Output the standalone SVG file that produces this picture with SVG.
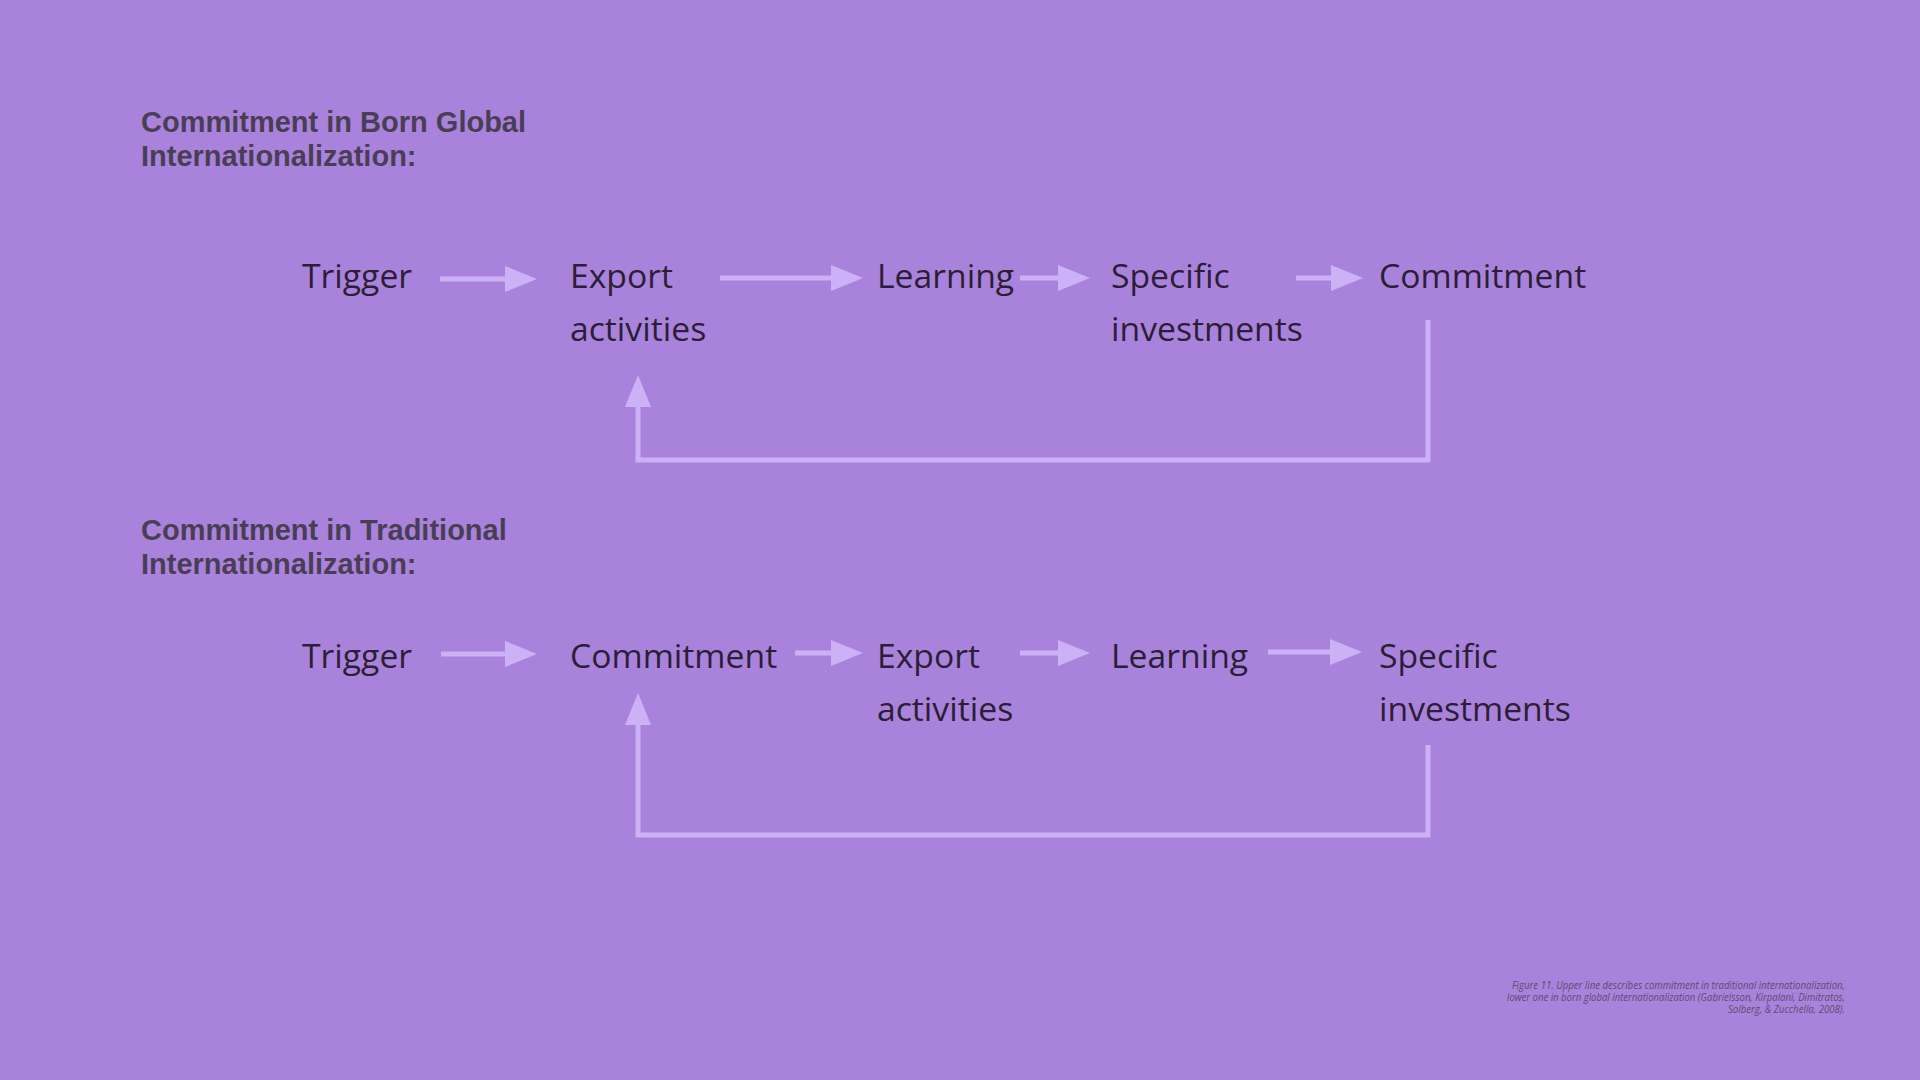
<svg xmlns="http://www.w3.org/2000/svg" width="1920" height="1080" viewBox="0 0 1920 1080">
<defs>
<style>
.hd{font-family:"Liberation Sans",Arial,sans-serif;font-weight:bold;font-size:29px;fill:#4a3e56}
.nd{font-family:"Open Sans","Noto Sans",sans-serif;font-size:33.7px;fill:#2b1e36}
.cn{fill:none;stroke:#cdb1f6;stroke-width:5}
.cap{font-family:"Open Sans","Noto Sans",sans-serif;font-style:italic;font-size:10px;fill:#5e4a70}
</style>
<marker id="ah" viewBox="0 0 32 26" refX="0" refY="13" markerWidth="32" markerHeight="26" markerUnits="userSpaceOnUse" orient="auto">
<path d="M0,0 L32,13 L0,26 z" fill="#cdb1f6"/>
</marker>
</defs>
<rect width="1920" height="1080" fill="#a983db"/>
<g id="heading1"><text class="hd" x="141" y="132">Commitment in Born Global</text><text class="hd" x="141" y="166">Internationalization:</text></g>
<g id="heading2"><text class="hd" x="141" y="540">Commitment in Traditional</text><text class="hd" x="141" y="574">Internationalization:</text></g>
<g id="r1-trigger"><text class="nd" x="302" y="288">Trigger</text></g>
<g id="r1-export"><text class="nd" x="570" y="288">Export</text><text class="nd" x="570" y="341">activities</text></g>
<g id="r1-learning"><text class="nd" x="877" y="288">Learning</text></g>
<g id="r1-specific"><text class="nd" x="1111" y="288">Specific</text><text class="nd" x="1111" y="341">investments</text></g>
<g id="r1-commitment"><text class="nd" x="1379" y="288">Commitment</text></g>
<g id="r2-trigger"><text class="nd" x="302" y="668">Trigger</text></g>
<g id="r2-commitment"><text class="nd" x="570" y="668">Commitment</text></g>
<g id="r2-export"><text class="nd" x="877" y="668">Export</text><text class="nd" x="877" y="721">activities</text></g>
<g id="r2-learning"><text class="nd" x="1111" y="668">Learning</text></g>
<g id="r2-specific"><text class="nd" x="1379" y="668">Specific</text><text class="nd" x="1379" y="721">investments</text></g>
<g id="connectors">
<path class="cn" d="M440,279 H505" marker-end="url(#ah)"/>
<path class="cn" d="M720,278 H831" marker-end="url(#ah)"/>
<path class="cn" d="M1020,278 H1058" marker-end="url(#ah)"/>
<path class="cn" d="M1296,278 H1331" marker-end="url(#ah)"/>
<path class="cn" d="M1428,320 V460 H638 V407" marker-end="url(#ah)"/>
<path class="cn" d="M441,654 H505" marker-end="url(#ah)"/>
<path class="cn" d="M795,653 H831" marker-end="url(#ah)"/>
<path class="cn" d="M1020,653 H1058" marker-end="url(#ah)"/>
<path class="cn" d="M1268,652 H1330" marker-end="url(#ah)"/>
<path class="cn" d="M1428,745 V835 H638 V725" marker-end="url(#ah)"/>
</g>
<g id="caption">
<text class="cap" x="1845" y="989" text-anchor="end" textLength="333" lengthAdjust="spacingAndGlyphs">Figure 11. Upper line describes commitment in traditional internationalization,</text>
<text class="cap" x="1845" y="1001" text-anchor="end" textLength="338" lengthAdjust="spacingAndGlyphs">lower one in born global internationalization (Gabrielsson, Kirpalani, Dimitratos,</text>
<text class="cap" x="1845" y="1013" text-anchor="end" textLength="117" lengthAdjust="spacingAndGlyphs">Solberg, &amp; Zucchella, 2008).</text>
</g>
</svg>
